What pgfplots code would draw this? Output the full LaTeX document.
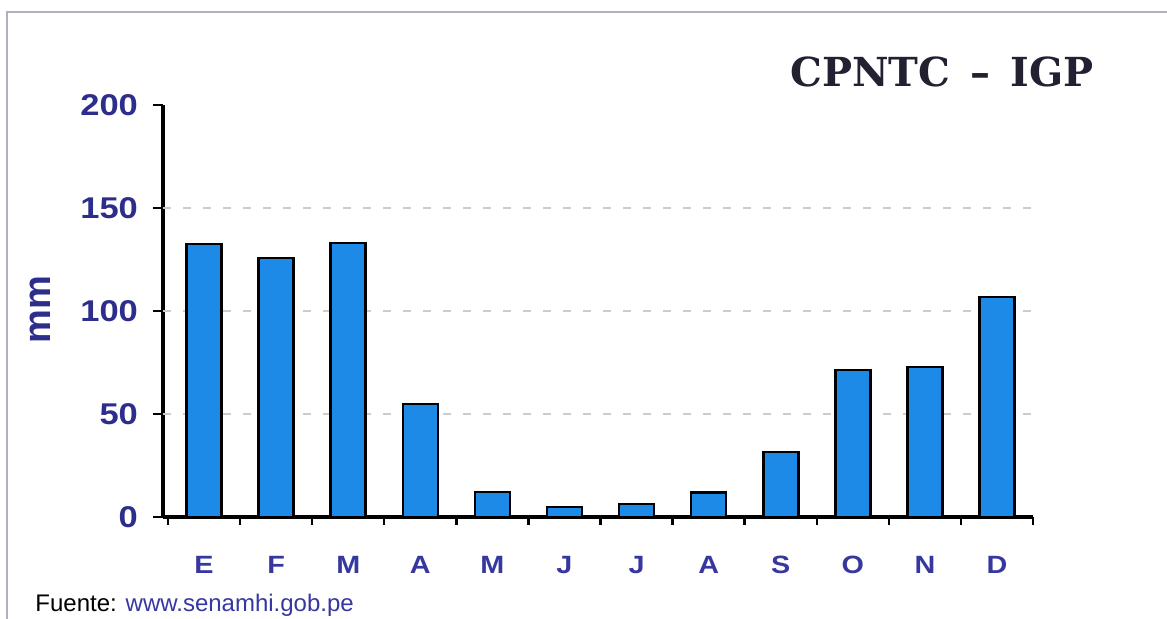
\documentclass[border=0pt]{standalone}
\usepackage{pgfplots}
\pgfplotsset{compat=1.18}
\usepackage{fontspec}
\setmainfont{Liberation Sans}
\newfontfamily\widefont[FakeStretch=1.15]{Liberation Sans}
\newfontfamily\titlefont{DejaVu Serif}
\definecolor{barblue}{RGB}{30,138,232}
\definecolor{ticknavy}{RGB}{45,45,140}
\definecolor{xnavy}{RGB}{55,55,160}
\definecolor{titlecol}{RGB}{35,32,50}
\definecolor{framegray}{RGB}{176,176,196}
\begin{document}
\begin{tikzpicture}
\useasboundingbox (0,0) rectangle (583.5pt,309.5pt);
\draw[color=framegray, line width=1.2pt] (3.5pt,0) -- (3.5pt,303.5pt) -- (583.5pt,303.5pt);
\begin{axis}[
  at={(81.5pt,51pt)}, anchor=south west, scale only axis,
  width=435pt, height=206pt,
  xmin=0.43, xmax=12.5, ymin=0, ymax=200,
  axis x line=bottom, axis y line=left,
  axis line style={line width=1.6pt, -, black},
  tick align=outside,
  /pgf/number format/assume math mode=true,
  xtick={1,...,12},
  xticklabels={E,F,M,A,M,J,J,A,S,O,N,D},
  major x tick style={draw=none},
  minor xtick={0.5,1.5,...,12.5},
  minor x tick style={black, line width=1.2pt},
  minor tick length=4pt,
  ytick={0,50,100,150,200},
  major y tick style={black, line width=1.3pt},
  major tick length=5pt,
  extra y ticks={50,100,150},
  extra y tick labels={},
  extra y tick style={ymajorgrids=true, major tick length=0pt,
     major grid style={dash pattern=on 4pt off 6pt, color=gray!40, line width=0.8pt}},
  yticklabel style={font=\widefont\bfseries\fontsize{15}{15}\selectfont, text=ticknavy, xshift=-4pt},
  xticklabel style={font=\widefont\bfseries\fontsize{12.5}{12.5}\selectfont, text=xnavy, yshift=-11pt},
  clip=false,
]
\addplot[ybar, bar width=17.5pt, fill=barblue, draw=black, line width=1.3pt] coordinates {
 (1,132.5) (2,125.7) (3,133) (4,54.9) (5,12.1) (6,4.9) (7,6.3) (8,12) (9,31.5) (10,71.4) (11,72.8) (12,106.8)
};
\end{axis}
\node[font=\titlefont\bfseries\fontsize{20}{20}\selectfont, text=titlecol] at (471pt,273.5pt) {CPNTC\,\,\,–\,\,\,IGP};
\node[rotate=90, font=\bfseries\fontsize{19}{19}\selectfont, text=ticknavy] at (20pt,154.5pt) {mm};
\node[anchor=base west, font=\fontsize{12}{12}\selectfont, inner sep=0pt] at (17.5pt,3.5pt) {Fuente: \textcolor{xnavy}{www.senamhi.gob.pe}};
\end{tikzpicture}
\end{document}
